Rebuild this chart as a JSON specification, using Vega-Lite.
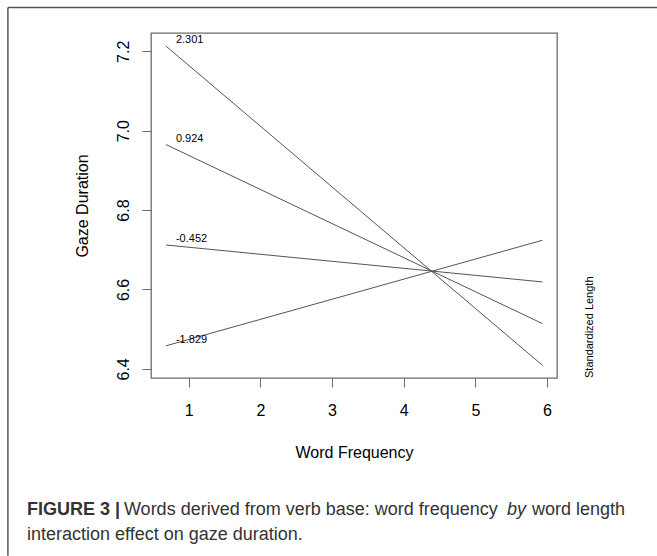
{
  "$schema": "https://vega.github.io/schema/vega-lite/v6.json",
  "width": 406,
  "height": 345,
  "autosize": "none",
  "padding": {"left": 151, "top": 33, "right": 100, "bottom": 178},
  "background": "white",
  "config": {
    "font": "Liberation Sans",
    "view": {"stroke": "#6a6a6a", "strokeWidth": 1.3},
    "axis": {
      "grid": false,
      "domain": false,
      "tickSize": 9,
      "tickColor": "#6a6a6a",
      "labelFlush": false,
      "labelOverlap": false,
      "labelColor": "#000000",
      "labelFont": "Liberation Sans",
      "titleFont": "Liberation Sans",
      "titleColor": "#000000",
      "titleFontWeight": "normal"
    },
    "axisX": {
      "labelFontSize": 16,
      "labelBaseline": "alphabetic",
      "labelPadding": 28.7,
      "titleFontSize": 16,
      "titleBaseline": "alphabetic",
      "titleY": 79.4
    },
    "axisY": {
      "labelFontSize": 16,
      "labelAngle": 270,
      "labelAlign": "center",
      "labelBaseline": "alphabetic",
      "labelPadding": 14,
      "titleFontSize": 16,
      "titleAngle": 270,
      "titleBaseline": "alphabetic",
      "titleX": -64
    }
  },
  "datasets": {
    "lines": [
      {"freq": 0.683, "gaze": 7.213, "len": "2.301"},
      {"freq": 5.936, "gaze": 6.409, "len": "2.301"},
      {"freq": 0.683, "gaze": 6.965, "len": "0.924"},
      {"freq": 5.936, "gaze": 6.514, "len": "0.924"},
      {"freq": 0.683, "gaze": 6.712, "len": "-0.452"},
      {"freq": 5.936, "gaze": 6.619, "len": "-0.452"},
      {"freq": 0.683, "gaze": 6.458, "len": "-1.829"},
      {"freq": 5.936, "gaze": 6.724, "len": "-1.829"}
    ],
    "one": [{}]
  },
  "layer": [
    {
      "data": {"name": "lines"},
      "mark": {"type": "line", "color": "#555555", "strokeWidth": 1},
      "encoding": {
        "x": {
          "field": "freq",
          "type": "quantitative",
          "scale": {"domain": [0.4744, 6.139], "nice": false, "zero": false},
          "axis": {"orient": "bottom", "values": [1, 2, 3, 4, 5, 6], "format": "d", "title": "Word Frequency"}
        },
        "y": {
          "field": "gaze",
          "type": "quantitative",
          "scale": {"domain": [6.377, 7.246], "nice": false, "zero": false},
          "axis": {"orient": "left", "values": [6.4, 6.6, 6.8, 7.0, 7.2], "format": ".1f", "title": "Gaze Duration"}
        },
        "detail": {"field": "len", "type": "nominal"}
      }
    },
    {
      "data": {"name": "lines"},
      "transform": [{"filter": "datum.freq < 1"}],
      "mark": {"type": "text", "align": "left", "baseline": "alphabetic", "dx": 10, "dy": -3, "fontSize": 11, "color": "#000000"},
      "encoding": {
        "x": {"field": "freq", "type": "quantitative"},
        "y": {"field": "gaze", "type": "quantitative"},
        "text": {"field": "len", "type": "nominal"}
      }
    },
    {
      "data": {"name": "one"},
      "mark": {"type": "text", "text": "Standardized Length", "angle": 270, "align": "left", "baseline": "alphabetic", "fontSize": 11, "color": "#000000"},
      "encoding": {
        "x": {"datum": 6.637, "type": "quantitative"},
        "y": {"datum": 6.377, "type": "quantitative"}
      }
    },
    {
      "data": {"name": "one"},
      "mark": {"type": "rule", "color": "#555555", "strokeWidth": 1.5, "clip": false},
      "encoding": {
        "x": {"datum": -1.522, "type": "quantitative"},
        "y": {"datum": 7.31, "type": "quantitative"},
        "y2": {"datum": 5.929}
      }
    },
    {
      "data": {"name": "one"},
      "mark": {"type": "rule", "color": "#555555", "strokeWidth": 1.5, "clip": false},
      "encoding": {
        "x": {"datum": -1.522, "type": "quantitative"},
        "x2": {"datum": 7.535},
        "y": {"datum": 7.31, "type": "quantitative"}
      }
    },
    {
      "data": {"name": "one"},
      "mark": {"type": "text", "text": "FIGURE 3 |", "align": "left", "baseline": "alphabetic", "fontSize": 18, "fontWeight": "bold", "color": "#333333"},
      "encoding": {
        "x": {"datum": -1.256, "type": "quantitative"},
        "y": {"datum": 6.032, "type": "quantitative"}
      }
    },
    {
      "data": {"name": "one"},
      "mark": {"type": "text", "text": "Words derived from verb base: word frequency", "align": "left", "baseline": "alphabetic", "fontSize": 18, "color": "#333333"},
      "encoding": {
        "x": {"datum": 0.097, "type": "quantitative"},
        "y": {"datum": 6.032, "type": "quantitative"}
      }
    },
    {
      "data": {"name": "one"},
      "mark": {"type": "text", "text": "by", "align": "left", "baseline": "alphabetic", "fontSize": 18, "fontStyle": "italic", "color": "#333333"},
      "encoding": {
        "x": {"datum": 5.442, "type": "quantitative"},
        "y": {"datum": 6.032, "type": "quantitative"}
      }
    },
    {
      "data": {"name": "one"},
      "mark": {"type": "text", "text": "word length", "align": "left", "baseline": "alphabetic", "fontSize": 18, "color": "#333333"},
      "encoding": {
        "x": {"datum": 5.791, "type": "quantitative"},
        "y": {"datum": 6.032, "type": "quantitative"}
      }
    },
    {
      "data": {"name": "one"},
      "mark": {"type": "text", "text": "interaction effect on gaze duration.", "align": "left", "baseline": "alphabetic", "fontSize": 18, "color": "#333333"},
      "encoding": {
        "x": {"datum": -1.256, "type": "quantitative"},
        "y": {"datum": 5.969, "type": "quantitative"}
      }
    }
  ]
}
